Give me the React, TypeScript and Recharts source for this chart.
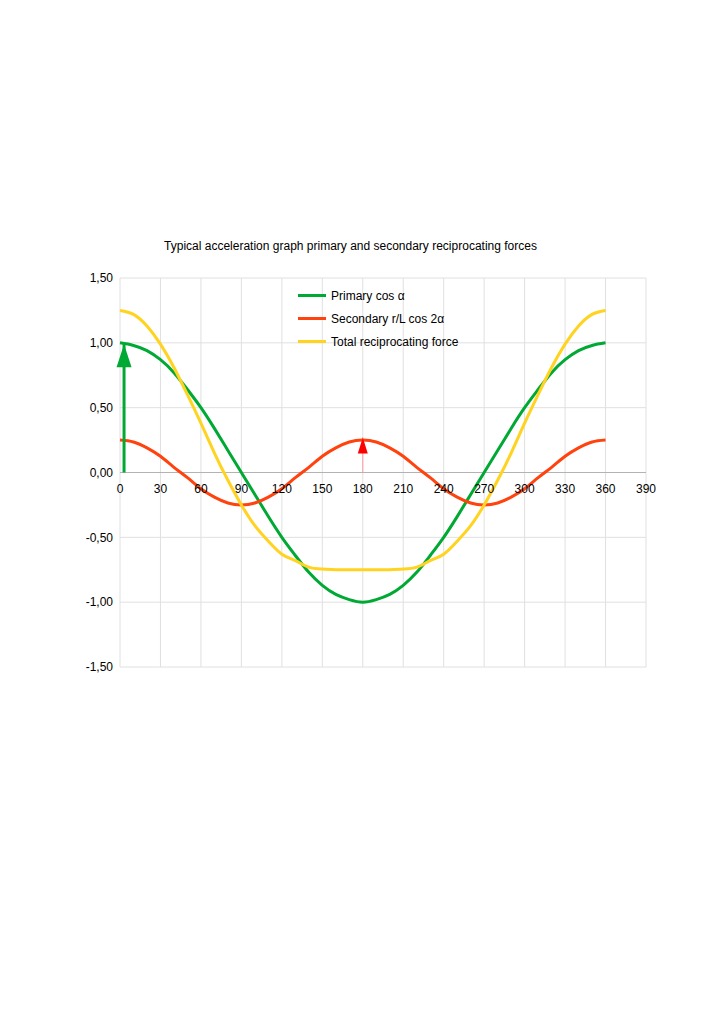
import { LineChart, Line, XAxis, YAxis, CartesianGrid, ReferenceLine } from 'recharts';

// crank angle in degrees
const ANGLES = [
  0, 10, 20, 30, 40, 50, 60, 70, 80, 90, 100, 110, 120, 130, 140, 150, 160, 170, 180,
  190, 200, 210, 220, 230, 240, 250, 260, 270, 280, 290, 300, 310, 320, 330, 340, 350, 360,
];

const PRIMARY = [
  1, 0.98, 0.94, 0.87, 0.77, 0.64, 0.5, 0.34, 0.17, 0, -0.17, -0.34, -0.5, -0.64, -0.77, -0.87, -0.94, -0.98, -1,
  -0.98, -0.94, -0.87, -0.77, -0.64, -0.5, -0.34, -0.17, 0, 0.17, 0.34, 0.5, 0.64, 0.77, 0.87, 0.94, 0.98, 1,
];

const SECONDARY = [
  0.25, 0.235, 0.19, 0.125, 0.04, -0.04, -0.125, -0.19, -0.235, -0.25, -0.235, -0.19, -0.125, -0.04, 0.04, 0.125, 0.19, 0.235, 0.25,
  0.235, 0.19, 0.125, 0.04, -0.04, -0.125, -0.19, -0.235, -0.25, -0.235, -0.19, -0.125, -0.04, 0.04, 0.125, 0.19, 0.235, 0.25,
];

const TOTAL = [
  1.25, 1.22, 1.13, 0.99, 0.81, 0.6, 0.38, 0.15, -0.06, -0.25, -0.41, -0.53, -0.63, -0.68, -0.73, -0.745, -0.75, -0.75, -0.75,
  -0.75, -0.75, -0.745, -0.73, -0.68, -0.63, -0.53, -0.41, -0.25, -0.06, 0.15, 0.38, 0.6, 0.81, 0.99, 1.13, 1.22, 1.25,
];

const X_TICKS = [0, 30, 60, 90, 120, 150, 180, 210, 240, 270, 300, 330, 360, 390];
const Y_TICKS = [-1.5, -1, -0.5, 0, 0.5, 1, 1.5];

// arrows drawn on the chart
const PRIMARY_ARROW = [
  { angle: 3, value: 0 },
  { angle: 3, value: 0.99 },
];
const SECONDARY_ARROW = [
  { angle: 180, value: 0 },
  { angle: 180, value: 0.27 },
];

const SERIES = [
  { key: 'primary', name: 'Primary cos α', color: '#00a933' },
  { key: 'secondary', name: 'Secondary r/L cos 2α', color: '#ff420e' },
  { key: 'total', name: 'Total reciprocating force', color: '#ffd320' },
];

const data = ANGLES.map((angle, i) => ({
  angle,
  primary: PRIMARY[i],
  secondary: SECONDARY[i],
  total: TOTAL[i],
}));

const FONT = '"Liberation Sans", Arial, sans-serif';
const PLOT_TOP = 278;
const PLOT_BOTTOM = 667;
const ZERO_Y = PLOT_TOP + (PLOT_BOTTOM - PLOT_TOP) / 2;

const fmtY = (v: number) => v.toFixed(2).replace('.', ',');

// x labels sit under the zero line, not at the bottom of the plot
function XTick(props: any) {
  const { x, payload } = props;
  return (
    <text x={x} y={ZERO_Y + 20} textAnchor="middle" fontSize={12} fontFamily={FONT} fill="#000">
      {payload.value}
    </text>
  );
}

function arrowHead(color: string, w: number, h: number) {
  return (props: any) => {
    const { cx, cy, index } = props;
    if (index !== 1) return <g key={index} />;
    return (
      <polygon
        key={index}
        points={`${cx},${cy} ${cx - w / 2},${cy + h} ${cx + w / 2},${cy + h}`}
        fill={color}
      />
    );
  };
}

function LegendBox() {
  return (
    <div style={{ position: 'absolute', left: 298, top: 284, fontFamily: FONT, fontSize: 12, color: '#000' }}>
      {SERIES.map((s) => (
        <div key={s.key} style={{ display: 'flex', alignItems: 'center', height: 23 }}>
          <span style={{ display: 'inline-block', width: 28, height: 3, background: s.color, marginRight: 5 }} />
          <span>{s.name}</span>
        </div>
      ))}
    </div>
  );
}

export default function App() {
  return (
    <div style={{ position: 'absolute', left: 0, top: 0, width: 724, height: 1024, background: '#fff' }}>
      <div
        style={{
          position: 'absolute',
          top: 239,
          left: 0,
          width: 701,
          textAlign: 'center',
          fontFamily: FONT,
          fontSize: 12,
          color: '#000',
        }}
      >
        Typical acceleration graph primary and secondary reciprocating forces
      </div>
      <LineChart
        width={724}
        height={1024}
        data={data}
        margin={{ top: PLOT_TOP, right: 78, bottom: 1024 - PLOT_BOTTOM - 30, left: 80 }}
      >
        <CartesianGrid stroke="#e0e0e0" />
        <XAxis
          dataKey="angle"
          type="number"
          domain={[0, 390]}
          ticks={X_TICKS}
          height={30}
          axisLine={false}
          tickLine={false}
          tick={<XTick />}
          interval={0}
        />
        <YAxis
          type="number"
          domain={[-1.5, 1.5]}
          ticks={Y_TICKS}
          width={40}
          axisLine={false}
          tickLine={false}
          tickFormatter={fmtY}
          tick={{ fontSize: 12, fontFamily: FONT, fill: '#000' }}
          tickMargin={1}
        />
        <ReferenceLine y={0} stroke="#b3b3b3" />
        {SERIES.map((s) => (
          <Line
            key={s.key}
            type="natural"
            dataKey={s.key}
            name={s.name}
            stroke={s.color}
            strokeWidth={3}
            dot={false}
            activeDot={false}
            isAnimationActive={false}
          />
        ))}
        <Line
          data={SECONDARY_ARROW}
          dataKey="value"
          stroke="#ff9a9a"
          strokeWidth={1}
          dot={arrowHead('#ff0000', 10, 16)}
          activeDot={false}
          legendType="none"
          isAnimationActive={false}
        />
        <Line
          data={PRIMARY_ARROW}
          dataKey="value"
          stroke="#00a933"
          strokeWidth={3}
          dot={arrowHead('#00a933', 15, 23)}
          activeDot={false}
          legendType="none"
          isAnimationActive={false}
        />
      </LineChart>
      <LegendBox />
    </div>
  );
}
